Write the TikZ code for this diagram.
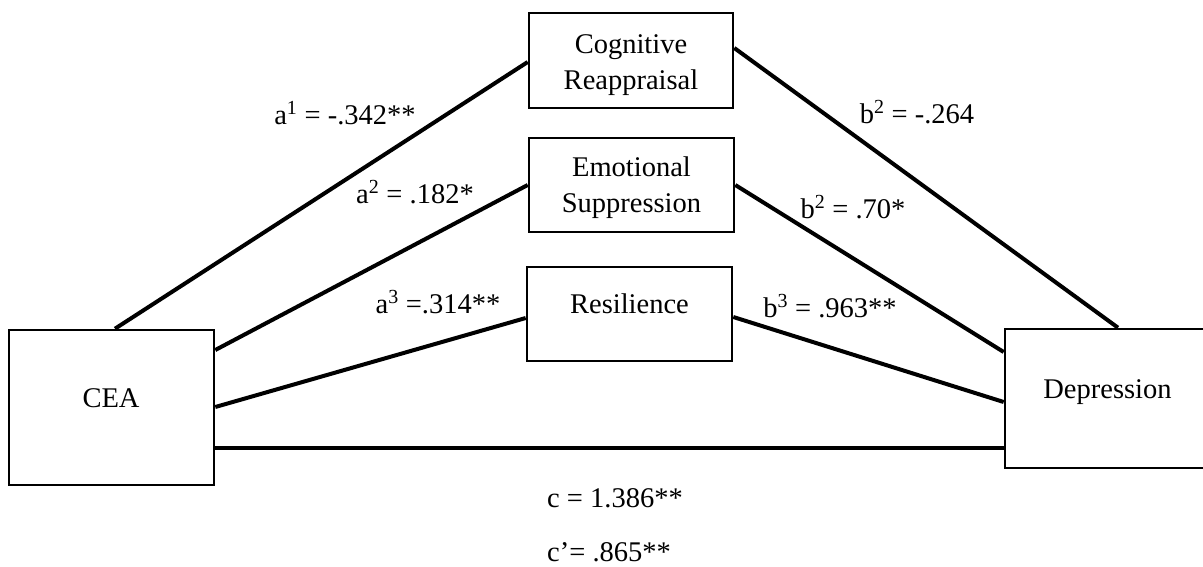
\documentclass[tikz,border=0pt]{standalone}
\usepackage{fontspec}
\setmainfont{Liberation Serif}
\begin{document}
\begin{tikzpicture}[x=1pt,y=-1pt,
  box/.style={draw,line width=2.6pt,rectangle,inner sep=0pt},
  txt/.style={inner sep=0pt,anchor=base,font=\fontsize{28.5}{35.5}\selectfont},
  lbl/.style={inner sep=0pt,anchor=base,font=\fontsize{28.5}{34}\selectfont},
  link/.style={line width=4pt}]
\useasboundingbox (0,0) rectangle (1203,566);
\clip (0,0) rectangle (1203,566);
% boxes
\node[box,minimum width=205pt,minimum height=155pt] (cea) at (111.5,407.5) {};
\node[box,minimum width=205pt,minimum height=139pt] (dep) at (1107.5,398.5) {};
\node[box,minimum width=204pt,minimum height=95pt] (cog) at (631,60.5) {};
\node[box,minimum width=205pt,minimum height=94pt] (emo) at (631.5,185) {};
\node[box,minimum width=205pt,minimum height=94pt] (res) at (629.5,314) {};
% box texts
\node[txt] (ceat) at (111,407) {CEA};
\node[txt] (dept) at (1107.5,398) {Depression};
\node[txt,align=center] (cogt) at (631,89) {Cognitive\\Reappraisal};
\node[txt,align=center] (emot) at (631.5,212) {Emotional\\Suppression};
\node[txt] (rest) at (629.5,313) {Resilience};
% connectors
\draw[link] ([xshift=3.5pt]cea.north) -- ([yshift=-1.5pt]cog.west);
\draw[link] ([yshift=57.5pt]cea.east) -- (emo.west);
\draw[link] ([yshift=0.5pt]cea.east) -- ([yshift=-4pt]res.west);
\draw[link] ([yshift=-40.5pt]cea.east) -- ([yshift=-49.5pt]dep.west);
\draw[link] ([yshift=12.5pt]cog.east) -- ([xshift=10.5pt]dep.north);
\draw[link] (emo.east) -- ([yshift=46.5pt]dep.west);
\draw[link] ([yshift=-3pt]res.east) -- ([yshift=-3.5pt]dep.west);
% labels
\node[lbl] (la1) at (345,124) {a\textsuperscript{1} = -.342**};
\node[lbl] (la2) at (415,203) {a\textsuperscript{2} = .182*};
\node[lbl] (la3) at (438,313) {a\textsuperscript{3} =.314**};
\node[lbl] (lb1) at (917,123) {b\textsuperscript{2} = -.264};
\node[lbl] (lb2) at (853,218) {b\textsuperscript{2} = .70*};
\node[lbl] (lb3) at (830,317) {b\textsuperscript{3} = .963**};
\node[lbl,anchor=base west] (lc) at (547,507) {c = 1.386**};
\node[lbl,anchor=base west] (lcp) at (547,561) {c’= .865**};
\end{tikzpicture}
\end{document}
